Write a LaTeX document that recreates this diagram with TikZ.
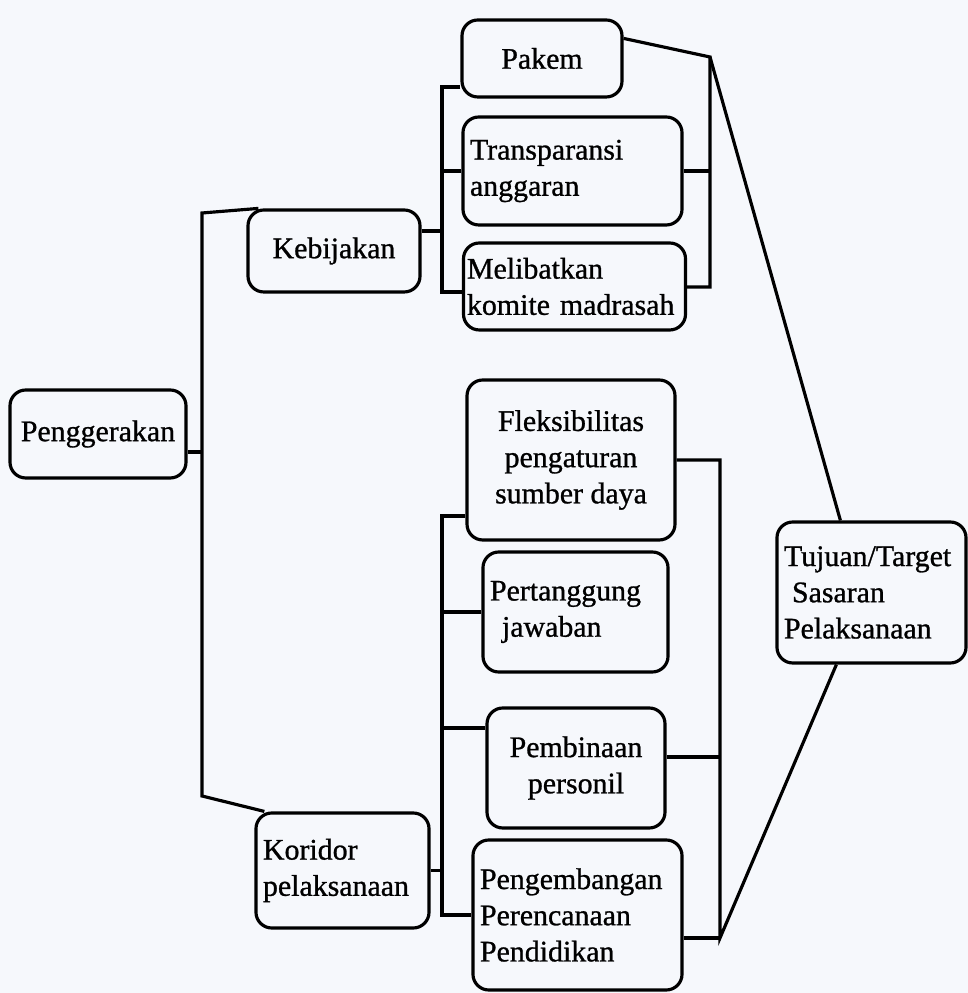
\documentclass[tikz,border=0pt]{standalone}
\usepackage{fontspec}
\setmainfont{Liberation Serif}
\newfontfamily\scanfont{Liberation Serif}[FakeBold=0.9]
\definecolor{ScanWhite}{RGB}{246,248,252}
\tikzset{
  kotak/.style={draw=black,rounded corners=4.5pt,line width=0.9pt,inner sep=2pt,
    align=center,font=\scanfont\fontsize{8.5}{10.3}\selectfont},
  garis/.style={draw=black,line width=0.9pt},
}

\begin{document}
\begin{tikzpicture}
\fill[ScanWhite] (0,0) rectangle (9.68,9.93);
\useasboundingbox (0,0) rectangle (9.68,9.93);
\node[kotak,minimum width=1.76cm,minimum height=0.88cm] (penggerakan) at (0.98,5.59) {Penggerakan};
\node[kotak,minimum width=1.72cm,minimum height=0.82cm] (kebijakan) at (3.34,7.42) {Kebijakan};
\node[kotak,minimum width=1.60cm,minimum height=0.77cm] (pakem) at (5.42,9.345) {Pakem};
\node[kotak,text width=2.05cm,minimum height=1.08cm,align=left] (transparansi) at (5.725,8.22) {Transparansi\\anggaran};
\node[kotak,text width=2.15cm,inner xsep=1pt,minimum height=0.87cm,align=left] (melibatkan) at (5.745,7.065) {Melibatkan\\komite madrasah};
\node[kotak,minimum width=2.08cm,minimum height=1.60cm] (fleksibilitas) at (5.71,5.33) {Fleksibilitas\\pengaturan\\sumber daya};
\node[kotak,text width=1.71cm,minimum height=1.20cm,align=left] (pertanggung) at (5.755,3.81) {Pertanggung\\\hspace*{0.12cm}jawaban};
\node[kotak,minimum width=1.78cm,minimum height=1.20cm] (pembinaan) at (5.76,2.25) {Pembinaan\\personil};
\node[kotak,text width=1.95cm,minimum height=1.50cm,align=left] (pengembangan) at (5.775,0.78) {Pengembangan\\Perencanaan\\Pendidikan};
\node[kotak,text width=1.59cm,minimum height=1.15cm,align=left] (koridor) at (3.425,1.225) {Koridor\\pelaksanaan};
\node[kotak,text width=1.75cm,minimum height=1.41cm,align=left] (tujuan) at (8.715,4.005) {Tujuan/Target\\\hspace*{0.08cm}Sasaran\\Pelaksanaan};
\coordinate (kiri1) at (2.02,7.80);
\coordinate (kiri2) at (2.02,1.97);
\coordinate (pg) at ([yshift=-0.18cm]penggerakan.east);
\draw[garis] ([xshift=0.12cm]kebijakan.north west) -- (kiri1) -- (kiri2) -- ([xshift=0.1cm]koridor.north west);
\draw[garis] (pg) -- (pg -| kiri1);
\coordinate (ka1) at (4.42,9.06);
\coordinate (ka2) at (4.42,7.01);
\coordinate (kb) at ([yshift=0.2cm]kebijakan.east);
\draw[garis] (ka1 -| pakem.west) -- (ka1) -- (ka2) -- (ka2 -| melibatkan.west);
\draw[garis] (transparansi.west) -- (transparansi.west -| ka1);
\draw[garis] (kb) -- (kb -| ka1);
\coordinate (kn1) at (7.10,9.36);
\coordinate (kn2) at (7.10,7.06);
\draw[garis] ([yshift=-0.2cm]pakem.north east) -- (kn1) -- (kn2) -- (kn2 -| melibatkan.east);
\draw[garis] (transparansi.east) -- (transparansi.east -| kn1);
\draw[garis] (kn1) -- ([xshift=0.65cm]tujuan.north west);
\coordinate (kc1) at (4.42,4.77);
\coordinate (kc2) at (4.42,0.78);
\coordinate (pb) at ([yshift=0.4cm]pembinaan.west);
\draw[garis] (kc1 -| fleksibilitas.west) -- (kc1) -- (kc2) -- (kc2 -| pengembangan.west);
\draw[garis] (pertanggung.west) -- (pertanggung.west -| kc1);
\draw[garis] (pb) -- (pb -| kc1);
\draw[garis] (koridor.east) -- (koridor.east -| kc1);
\coordinate (kd1) at (7.20,5.26);
\coordinate (pm) at ([yshift=0.11cm]pembinaan.east);
\coordinate (pr) at ([yshift=-0.23cm]pengembangan.east);
\coordinate (kd2) at (pr -| kd1);
\draw[garis] (fleksibilitas.east) -- (fleksibilitas.east -| kd1) -- (kd2) -- ([xshift=0.61cm]tujuan.south west);
\draw[garis] (pm) -- (pm -| kd1);
\draw[garis] (pr) -- (kd2);
\end{tikzpicture}
\end{document}
